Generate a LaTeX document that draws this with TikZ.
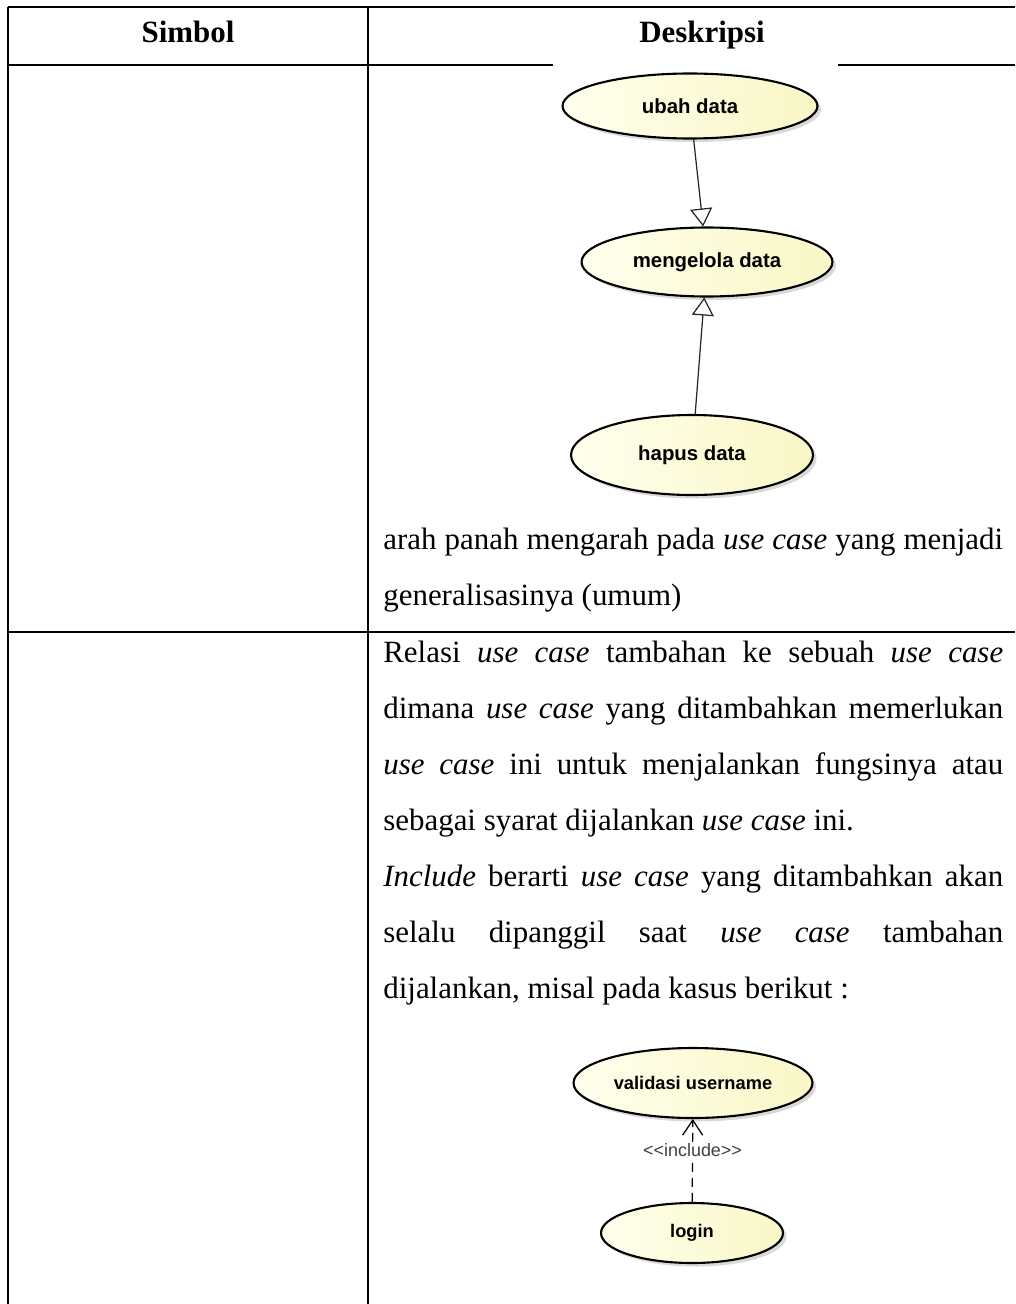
\documentclass[tikz,border=0pt]{standalone}
\usepackage{fontspec}
\setmainfont{Liberation Serif}
\setsansfont{Liberation Sans}
\usetikzlibrary{arrows.meta,shapes.geometric,shadows}
\definecolor{ucwhite}{RGB}{255,255,238}
\definecolor{ucyellow}{RGB}{249,247,198}

\begin{document}
\begin{tikzpicture}[x=0.02cm,y=-0.02cm,
  usecase/.style={ellipse,draw,line width=1.2pt,inner sep=0pt,
    left color=ucwhite,right color=ucyellow,
    drop shadow={shadow xshift=2pt,shadow yshift=-2pt,opacity=.3,fill=black!50},
    font=\sffamily\bfseries\fontsize{11.6}{13}\selectfont},
  gen/.style={draw=black!85,line width=.7pt,-{Triangle[open,length=.36cm,width=.44cm]}},
  incl/.style={draw,line width=.7pt,dash pattern=on .18cm off .12cm,
    -{Straight Barb[length=.3cm,width=.4cm]}},
  lbl/.style={fill=white,inner sep=1pt,text=black!75,
    font=\sffamily\fontsize{10.2}{12}\selectfont},
  tline/.style={line width=1.5pt},
  hdr/.style={anchor=base,inner sep=0pt,font=\bfseries\fontsize{17.6}{20}\selectfont},
  txt/.style={anchor=base west,inner sep=0pt,font=\fontsize{17.6}{20}\selectfont}]
\useasboundingbox (0,0) rectangle (1015,1304);

%%%% table
%%%%
\draw[tline] (8,7) -- (1015,7);
\draw[tline] (8,65) -- (553,65);
\draw[tline] (838,65) -- (1015,65);
\draw[tline] (8,632) -- (1015,632);
\draw[tline] (8,7) -- (8,1304);
\draw[tline] (368,7) -- (368,1304);

\node[hdr] (simbol) at (188,43) {Simbol};
\node[hdr] (deskripsi) at (702,43) {Deskripsi};

%%%% 1
%%%%
\begin{scope}
\node[usecase,minimum width=5.1cm,minimum height=1.3cm] (ubah) at (690,106) {ubah data};
\node[usecase,minimum width=5.02cm,minimum height=1.38cm] (kelola) at (707,262) {mengelola data};
\node[usecase,minimum width=4.84cm,minimum height=1.6cm] (hapus) at (692,455) {hapus data};

\foreach \u in {ubah,hapus}{
\draw[gen] (\u) -- (kelola);
}

\foreach[count=\i] \y/\j/\txt in{
549/s/{arah panah mengarah pada \emph{use case} yang menjadi},
605/l/{generalisasinya (umum)}%
}{
\node[txt] (gen\i) at (383,\y) {\makebox[12.4cm][\j]{\txt}};
}
\end{scope}

%%%% 2
%%%%
\begin{scope}
\foreach[count=\i] \y/\j/\txt in{
662/s/{Relasi \emph{use case} tambahan ke sebuah \emph{use case}},
718/s/{dimana \emph{use case} yang ditambahkan memerlukan},
774/s/{\emph{use case} ini untuk menjalankan fungsinya atau},
830/l/{sebagai syarat dijalankan \emph{use case} ini.},
886/s/{\emph{Include} berarti \emph{use case} yang ditambahkan akan},
942/s/{selalu dipanggil saat \emph{use case} tambahan},
998/l/{dijalankan, misal pada kasus berikut :}%
}{
\node[txt] (rel\i) at (383,\y) {\makebox[12.4cm][\j]{\txt}};
}

\node[usecase,minimum width=4.78cm,minimum height=1.4cm,
  font=\sffamily\bfseries\fontsize{10.4}{12}\selectfont] (validasi) at (693,1083) {validasi username};
\node[usecase,minimum width=3.64cm,minimum height=1.2cm,
  font=\sffamily\bfseries\fontsize{10.4}{12}\selectfont] (login) at (692,1233) {login};

\draw[incl] (login) -- node[lbl,pos=.62] (inc) {<\kern0pt<include>\kern0pt>} (validasi);
\end{scope}

\end{tikzpicture}
\end{document}
